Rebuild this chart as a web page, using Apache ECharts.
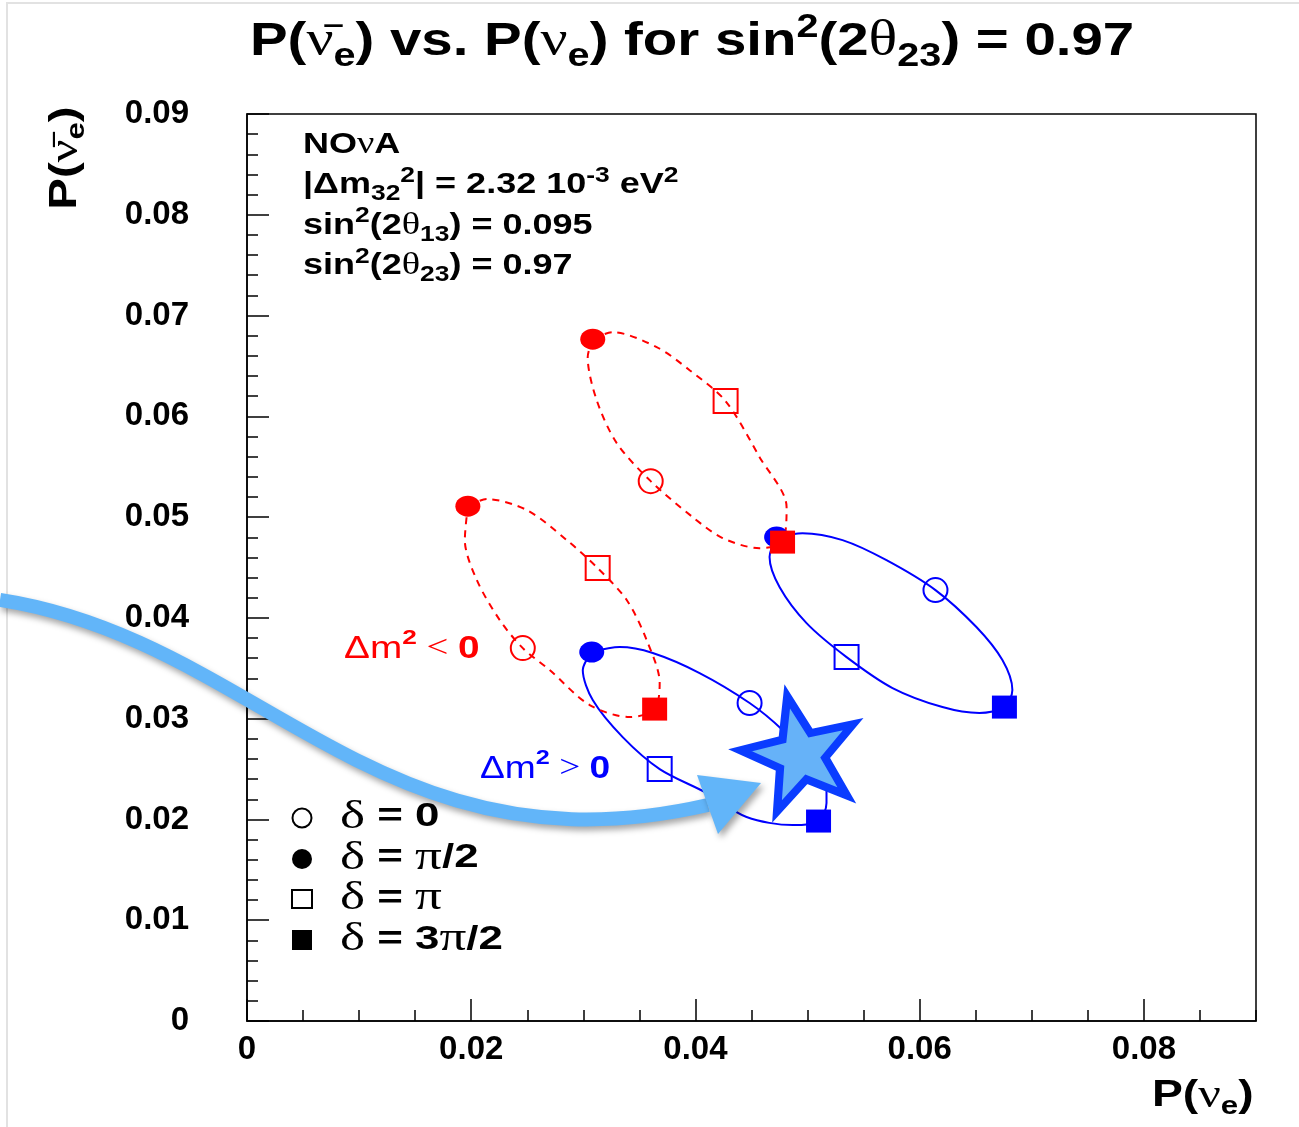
<!DOCTYPE html>
<html><head><meta charset="utf-8">
<script src="https://cdn.jsdelivr.net/npm/echarts@6/dist/echarts.min.js"></script>
<style>html,body{margin:0;padding:0;background:#fff}#c{width:1299px;height:1127px}</style>
</head><body><div id="c"></div>
<script>
// ---- data ----
const xTickValues = [0, 0.02, 0.04, 0.06, 0.08];
const xTickLabels = ['0', '0.02', '0.04', '0.06', '0.08'];
const yTickValues = [0, 0.01, 0.02, 0.03, 0.04, 0.05, 0.06, 0.07, 0.08, 0.09];
const yTickLabels = ['0', '0.01', '0.02', '0.03', '0.04', '0.05', '0.06', '0.07', '0.08', '0.09'];

// Δm² < 0 (red dashed), upper ellipse
const ihUpperCurve = [[0.03084,0.06766],[0.03262,0.06835],[0.03654,0.06687],[0.03948,0.06458],[0.04269,0.06151],[0.04572,0.05595],[0.04813,0.05099],[0.04777,0.04752],[0.04572,0.04692],[0.04242,0.04792],[0.03975,0.05000],[0.03601,0.05357],[0.03298,0.05734],[0.03119,0.06161],[0.03039,0.06587],[0.03084,0.06766]];
// Δm² < 0 (red dashed), lower ellipse
const ihLowerCurve = [[0.01970,0.05109],[0.02139,0.05179],[0.02496,0.05070],[0.02852,0.04772],[0.03128,0.04494],[0.03387,0.04177],[0.03565,0.03780],[0.03681,0.03353],[0.03636,0.03095],[0.03414,0.03016],[0.03057,0.03135],[0.02700,0.03482],[0.02460,0.03700],[0.02255,0.03978],[0.02050,0.04375],[0.01943,0.04772],[0.01970,0.05109]];
// Δm² > 0 (blue solid), upper ellipse
const nhUpperCurve = [[0.04724,0.04802],[0.04955,0.04841],[0.05312,0.04772],[0.05704,0.04573],[0.06141,0.04276],[0.06506,0.03909],[0.06738,0.03581],[0.06827,0.03284],[0.06756,0.03115],[0.06533,0.03056],[0.06203,0.03115],[0.05758,0.03304],[0.05348,0.03611],[0.04991,0.03948],[0.04750,0.04306],[0.04661,0.04603],[0.04724,0.04802]];
// Δm² > 0 (blue solid), lower ellipse
const nhLowerCurve = [[0.03075,0.03661],[0.03324,0.03710],[0.03619,0.03651],[0.04037,0.03452],[0.04483,0.03155],[0.04777,0.02887],[0.05018,0.02589],[0.05169,0.02321],[0.05169,0.02163],[0.05098,0.01984],[0.04866,0.01944],[0.04456,0.02024],[0.04100,0.02262],[0.03681,0.02500],[0.03351,0.02817],[0.03084,0.03185],[0.02995,0.03482],[0.03075,0.03661]];

// markers, in order δ = 0, π/2, π, 3π/2
const deltaNames = ['δ = 0', 'δ = π/2', 'δ = π', 'δ = 3π/2'];
const ihUpperMarkers = [[0.03601,0.05357],[0.03084,0.06766],[0.04269,0.06151],[0.04777,0.04752]];
const ihLowerMarkers = [[0.02460,0.03700],[0.01970,0.05109],[0.03128,0.04494],[0.03636,0.03095]];
const nhUpperMarkers = [[0.06141,0.04276],[0.04724,0.04802],[0.05348,0.03611],[0.06756,0.03115]];
const nhLowerMarkers = [[0.04483,0.03155],[0.03075,0.03661],[0.03681,0.02500],[0.05098,0.01984]];
const starPoint = [[0.04929, 0.02650]];

// ---- chart ----
const RED = '#ff0000', BLUE = '#0000ff';
const SANS = 'Liberation Sans', SERIF = 'Liberation Serif';
const SX = 1.2; // horizontal stretch of the reference lettering
const markerStyles = [
  {symbol: 'circle', size: 24, filled: false},
  {symbol: 'circle', size: [25, 21], filled: true},
  {symbol: 'rect', size: 24, filled: false},
  {symbol: 'rect', size: [25, 23], filled: true}
];
function markerSeries(sets, color) {
  return markerStyles.map((m, k) => ({
    type: 'scatter', name: deltaNames[k],
    data: sets.map(s => s[k]),
    symbol: m.symbol, symbolSize: m.size,
    itemStyle: m.filled ? {color: color, opacity: 1} : {color: 'rgba(0,0,0,0)', borderColor: color, borderWidth: 2, opacity: 1},
    emphasis: {disabled: true}, silent: true, z: 4
  }));
}
function curve(data, color, dashed) {
  return {type: 'line', data: data, symbol: 'none', smooth: 0.3, silent: true, z: 3,
    lineStyle: {color: color, width: 2, type: dashed ? [7, 6] : 'solid'}};
}
const starPath = 'path://M95.1 0 L118.6 67.6 L190.2 69.1 L133.1 112.4 L153.9 180.9 L95.1 140 L36.3 180.9 L57.1 112.4 L0 69.1 L71.6 67.6 Z';

const series = [
  curve(nhUpperCurve, BLUE, false), curve(nhLowerCurve, BLUE, false),
  ...markerSeries([nhUpperMarkers, nhLowerMarkers], BLUE),
  curve(ihUpperCurve, RED, true), curve(ihLowerCurve, RED, true),
  ...markerSeries([ihUpperMarkers, ihLowerMarkers], RED),
  {type: 'scatter', data: starPoint, symbol: starPath, symbolSize: [116, 110], symbolRotate: 13,
   symbolOffset: [0, -4], silent: true, z: 6,
   itemStyle: {color: '#66b2f8', borderColor: '#0a3cff', borderWidth: 8, borderJoin: 'miter', opacity: 1}}
];

function lookup(vals, labels, v) {
  for (let i = 0; i < vals.length; i++) if (Math.abs(vals[i] - v) < 1e-9) return labels[i];
  return '';
}
const tickFont = {color: '#000', fontFamily: SANS, fontWeight: 'bold', fontSize: 33};

const sub = (fs, lh) => ({fontFamily: SANS, fontWeight: 'bold', fontSize: fs, lineHeight: lh, verticalAlign: 'bottom', fill: '#000'});
const sup = (fs, lh) => ({fontFamily: SANS, fontWeight: 'bold', fontSize: fs, lineHeight: lh, verticalAlign: 'top', fill: '#000'});

const option = {
  backgroundColor: '#fff',
  animation: false,
  grid: {left: 247, top: 114, right: 43, bottom: 106, show: true, borderColor: '#000', borderWidth: 1.5, backgroundColor: '#fff'},
  xAxis: [
    {type: 'value', min: 0, max: 0.09, interval: 0.02, position: 'bottom',
     axisLine: {show: true, onZero: false, lineStyle: {color: '#000', width: 1.5}},
     axisTick: {show: true, inside: true, length: 22, lineStyle: {color: '#000', width: 1.5}},
     axisLabel: Object.assign({margin: 12, showMaxLabel: false, formatter: v => lookup(xTickValues, xTickLabels, v)}, tickFont),
     splitLine: {show: false}},
    {type: 'value', min: 0, max: 0.09, interval: 0.005, position: 'bottom',
     axisLine: {show: false},
     axisTick: {show: true, inside: true, length: 11, lineStyle: {color: '#000', width: 1.5}},
     axisLabel: {show: false}, splitLine: {show: false}}
  ],
  yAxis: {type: 'value', min: 0, max: 0.09, interval: 0.01,
    axisLine: {show: true, onZero: false, lineStyle: {color: '#000', width: 1.5}},
    axisTick: {show: true, inside: true, length: 22, lineStyle: {color: '#000', width: 1.5}},
    minorTick: {show: true, splitNumber: 5, length: 11, lineStyle: {color: '#000', width: 1.5}},
    axisLabel: Object.assign({margin: 58, formatter: v => lookup(yTickValues, yTickLabels, v)}, tickFont),
    splitLine: {show: false}},
  series: series,
  graphic: [
    // faint page frame of the reference image
    {type: 'rect', z: 1, silent: true, shape: {x: 7, y: 3, width: 1400, height: 1300},
     style: {fill: 'none', stroke: '#e2e2e2', lineWidth: 2}},
    // title
    {type: 'text', x: 250, y: 11, scaleX: 1.2, z: 100, silent: true,
     style: {
       text: '{a|P(}{n|ν\u0304}{s|e}{a|) vs. P(}{n|ν}{s|e}{a|) for sin}{p|2}{a|(2}{n|θ}{s|23}{a|) = 0.97}',
       rich: {
         a: {fontFamily: SANS, fontWeight: 'bold', fontSize: 47, lineHeight: 62, verticalAlign: 'middle', fill: '#000'},
         n: {fontFamily: SERIF, fontSize: 50, lineHeight: 62, verticalAlign: 'middle', fill: '#000'},
         s: sub(33, 34),
         p: sup(33, 30)
       }
     }},
    // parameter box
    {type: 'text', x: 303, y: 124, scaleX: SX, z: 100, silent: true,
     style: {
       text: '{a|NO}{n|ν}{a|A}\n' +
             '{a||Δm}{s|32}{p|2}{a|| = 2.32 10}{p|-3}{a| eV}{p|2}\n' +
             '{a|sin}{p|2}{a|(2}{n|θ}{s|13}{a|) = 0.095}\n' +
             '{a|sin}{p|2}{a|(2}{n|θ}{s|23}{a|) = 0.97}',
       rich: {
         a: {fontFamily: SANS, fontWeight: 'bold', fontSize: 30, lineHeight: 40.5, verticalAlign: 'middle', fill: '#000'},
         n: {fontFamily: SERIF, fontSize: 32, lineHeight: 40.5, verticalAlign: 'middle', fill: '#000'},
         s: sub(22, 24),
         p: sup(22, 20)
       }
     }},
    // Δm² labels
    {type: 'text', x: 344, y: 628, scaleX: 1.25, z: 100, silent: true,
     style: {text: '{a|Δm}{p|2}{l| < }{b|0}', rich: {
       a: {fontFamily: SANS, fontSize: 31, lineHeight: 42, verticalAlign: 'middle', fill: RED},
       p: {fontFamily: SANS, fontWeight: 'bold', fontSize: 21, lineHeight: 22, verticalAlign: 'top', fill: RED},
       l: {fontFamily: SERIF, fontSize: 31, lineHeight: 42, verticalAlign: 'middle', fill: RED},
       b: {fontFamily: SANS, fontWeight: 'bold', fontSize: 31, lineHeight: 42, verticalAlign: 'middle', fill: RED}
     }}},
    {type: 'text', x: 480, y: 748, scaleX: 1.2, z: 100, silent: true,
     style: {text: '{a|Δm}{p|2}{l| > }{b|0}', rich: {
       a: {fontFamily: SANS, fontSize: 31, lineHeight: 42, verticalAlign: 'middle', fill: BLUE},
       p: {fontFamily: SANS, fontWeight: 'bold', fontSize: 21, lineHeight: 22, verticalAlign: 'top', fill: BLUE},
       l: {fontFamily: SERIF, fontSize: 31, lineHeight: 42, verticalAlign: 'middle', fill: BLUE},
       b: {fontFamily: SANS, fontWeight: 'bold', fontSize: 31, lineHeight: 42, verticalAlign: 'middle', fill: BLUE}
     }}},
    // legend
    {type: 'circle', shape: {cx: 302, cy: 818, r: 9.5}, style: {fill: 'none', stroke: '#000', lineWidth: 2}, z: 100, silent: true},
    {type: 'circle', shape: {cx: 302, cy: 859, r: 10}, style: {fill: '#000'}, z: 100, silent: true},
    {type: 'rect', shape: {x: 292, y: 890, width: 20, height: 18}, style: {fill: 'none', stroke: '#000', lineWidth: 2}, z: 100, silent: true},
    {type: 'rect', shape: {x: 292, y: 930, width: 20, height: 20}, style: {fill: '#000'}, z: 100, silent: true},
    {type: 'text', x: 340, y: 797, scaleX: 1.33, z: 100, silent: true,
     style: {text: deltaNames.map(t => {
        const parts = t.split(' = ');
        const v = parts[1].replace(/π/g, '}{n|π}{b|');
        return '{n|δ}{b| = ' + v + '}';
      }).join('\n'),
      rich: {
        n: {fontFamily: SERIF, fontSize: 40, lineHeight: 40.7, verticalAlign: 'middle', fill: '#000'},
        b: {fontFamily: SANS, fontWeight: 'bold', fontSize: 33, lineHeight: 40.7, verticalAlign: 'middle', fill: '#000'}
      }}},
    // axis titles
    {type: 'text', x: 66, y: 158, rotation: Math.PI / 2, scaleX: 1.25, z: 100, silent: true,
     style: {text: '{a|P(}{n|ν\u0304}{s|e}{a|)}', align: 'center', verticalAlign: 'middle', rich: {
       a: {fontFamily: SANS, fontWeight: 'bold', fontSize: 38, lineHeight: 48, verticalAlign: 'middle', fill: '#000'},
       n: {fontFamily: SERIF, fontSize: 40, lineHeight: 48, verticalAlign: 'middle', fill: '#000'},
       s: {fontFamily: SANS, fontWeight: 'bold', fontSize: 25, lineHeight: 25, verticalAlign: 'bottom', fill: '#000'}
     }}},
    {type: 'text', x: 1152, y: 1072, scaleX: 1.25, z: 100, silent: true,
     style: {text: '{a|P(}{n|ν}{s|e}{a|)}', rich: {
       a: {fontFamily: SANS, fontWeight: 'bold', fontSize: 37, lineHeight: 48, verticalAlign: 'middle', fill: '#000'},
       n: {fontFamily: SERIF, fontSize: 40, lineHeight: 48, verticalAlign: 'middle', fill: '#000'},
       s: {fontFamily: SANS, fontWeight: 'bold', fontSize: 25, lineHeight: 25, verticalAlign: 'bottom', fill: '#000'}
     }}},
    // highlight arrow
    {type: 'bezierCurve', z: 90, silent: true,
     shape: {x1: 0, y1: 600, cpx1: 260, cpy1: 640, cpx2: 380, cpy2: 880, x2: 708, y2: 805},
     style: {stroke: '#62b5f9', lineWidth: 14, fill: 'none', lineCap: 'butt',
       shadowBlur: 6, shadowColor: 'rgba(0,0,0,0.35)', shadowOffsetX: 2, shadowOffsetY: 4}},
    {type: 'polygon', z: 91, silent: true,
     shape: {points: [[697, 775], [761, 783], [718, 834]]},
     style: {fill: '#62b5f9', shadowBlur: 6, shadowColor: 'rgba(0,0,0,0.35)', shadowOffsetX: 3, shadowOffsetY: 4}}
  ]
};
const chart = echarts.init(document.getElementById('c'), null, {renderer: 'canvas'});
chart.setOption(option);
</script>
</body></html>
